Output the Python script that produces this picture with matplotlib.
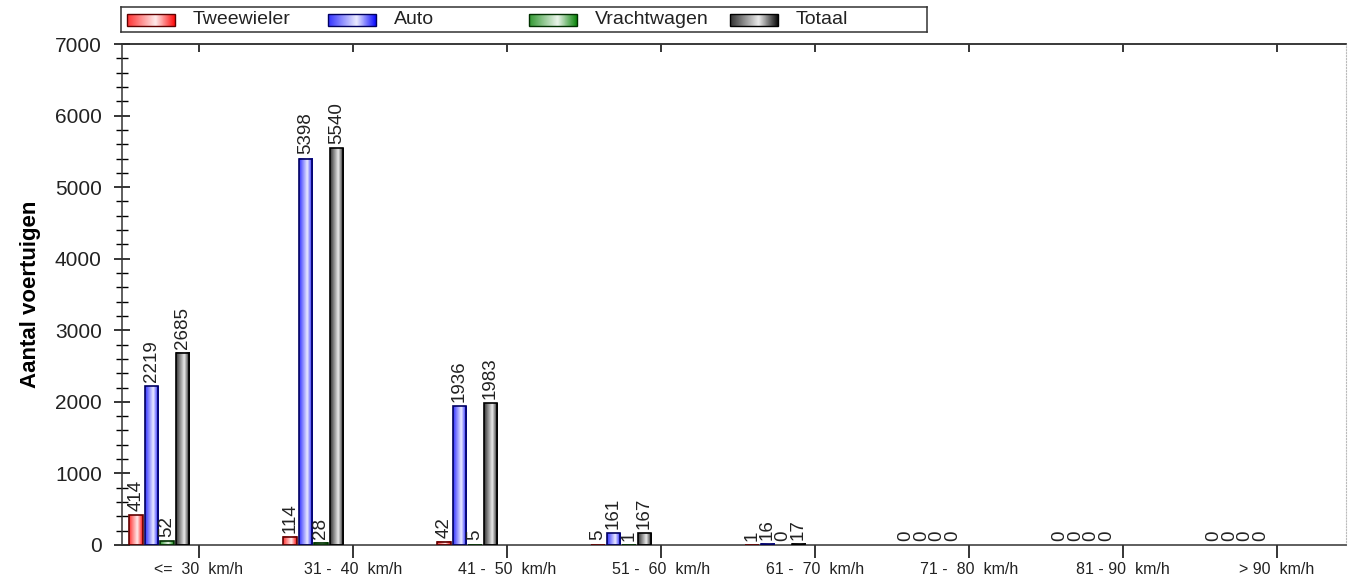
import matplotlib
matplotlib.use("Agg")
import matplotlib.pyplot as plt
import numpy as np
from matplotlib.colors import LinearSegmentedColormap, to_rgb
from matplotlib.ticker import MultipleLocator

plt.rcParams['font.family'] = ['Liberation Sans', 'DejaVu Sans']

# data
categories = ["<=  30  km/h", "31 -  40  km/h", "41 -  50  km/h", "51 -  60  km/h",
              "61 -  70  km/h", "71 -  80  km/h", "81 - 90  km/h", "> 90  km/h"]
series = ["Tweewieler", "Auto", "Vrachtwagen", "Totaal"]
tweewieler = [414, 114, 42, 5, 1, 0, 0, 0]
auto = [2219, 5398, 1936, 161, 16, 0, 0, 0]
vrachtwagen = [52, 28, 5, 1, 0, 0, 0, 0]
totaal = [2685, 5540, 1983, 167, 17, 0, 0, 0]
values = [tweewieler, auto, vrachtwagen, totaal]
colors = ["#ff0000", "#0000ff", "#008000", "#000000"]
edges = ["#600000", "#000060", "#003000", "#000000"]


def grad_cmap(c):
    base = np.array(to_rgb(c))
    white = np.ones(3)
    pts = [(0.0, 0.2), (0.6, 0.92), (1.0, 0.05)]
    return LinearSegmentedColormap.from_list(
        "g", [(p, tuple(base + (white - base) * f)) for p, f in pts])


W, H = 1349, 580
fig = plt.figure(figsize=(W / 100, H / 100), dpi=100)
ax = fig.add_axes([122 / W, 1 - 545 / H, (1346 - 122) / W, (545 - 44) / H])

grad = np.linspace(0, 1, 64).reshape(1, -1)
width = 0.088
offsets = [-0.41 + 0.101 * i for i in range(4)]

for s, (vals, c, ec) in enumerate(zip(values, colors, edges)):
    cmap = grad_cmap(c)
    x = np.arange(len(categories)) + offsets[s]
    for xi, v in zip(x, vals):
        if v > 0:
            ax.imshow(grad, extent=[xi - width / 2, xi + width / 2, 0, v],
                      aspect='auto', cmap=cmap, zorder=2, interpolation='bilinear')
            ax.bar(xi, v, width=width, fill=False, edgecolor=ec, linewidth=1.2, zorder=3)
        ax.annotate(str(v), (xi, v), xytext=(0, 3), textcoords='offset points',
                    rotation=90, ha='center', va='bottom', fontsize=13.5, color='#222222')

ax.set_xlim(-0.5, -0.5 + (1346 - 122) / 154)
ax.set_ylim(0, 7000)
ax.set_xticks(np.arange(len(categories)))
ax.set_xticklabels(categories, fontsize=11.5, color='#222222')
ax.tick_params(axis='x', direction='out', length=9, width=1.1, pad=3)
ax.yaxis.set_major_locator(MultipleLocator(1000))
ax.yaxis.set_minor_locator(MultipleLocator(200))
ax.tick_params(axis='y', which='major', direction='inout', length=11, width=1.1,
               labelsize=15, pad=9, labelcolor='#222222')
ax.tick_params(axis='y', which='minor', direction='inout', length=8, width=1.0)
ax.set_ylabel("Aantal voertuigen", fontsize=16, fontweight='bold', labelpad=10)

# small ticks on the top border, pointing inward
top = ax.secondary_xaxis('top')
top.set_xticks(np.arange(len(categories)))
top.tick_params(direction='in', length=6, width=1.1, labeltop=False)
top.spines['top'].set_linewidth(1.1)
top.spines['top'].set_color('#333333')

for sp in ['left', 'bottom', 'top']:
    ax.spines[sp].set_linewidth(1.1)
    ax.spines[sp].set_color('#333333')
ax.spines['right'].set_linestyle(':')
ax.spines['right'].set_color('#bbbbbb')

# legend
lax = fig.add_axes([121 / W, 1 - 32 / H, (927 - 121) / W, (32 - 7) / H])
lax.set_xticks([])
lax.set_yticks([])
for sp in lax.spines.values():
    sp.set_linewidth(1.1)
    sp.set_color('#333333')
for i, (name, c, ec) in enumerate(zip(series, colors, edges)):
    x0 = 6 + 201 * i
    lax.imshow(grad, extent=[x0, x0 + 48, 19, 7], aspect='auto',
               cmap=grad_cmap(c), interpolation='bilinear')
    lax.add_patch(plt.Rectangle((x0, 7), 48, 12, fill=False, edgecolor=ec, linewidth=1))
    lax.text(x0 + 66, 12.5, name, va='center', ha='left', fontsize=14, color='#222222')
lax.set_xlim(0, 927 - 121)
lax.set_ylim(25, 0)

fig.savefig("out.png", dpi=100)
